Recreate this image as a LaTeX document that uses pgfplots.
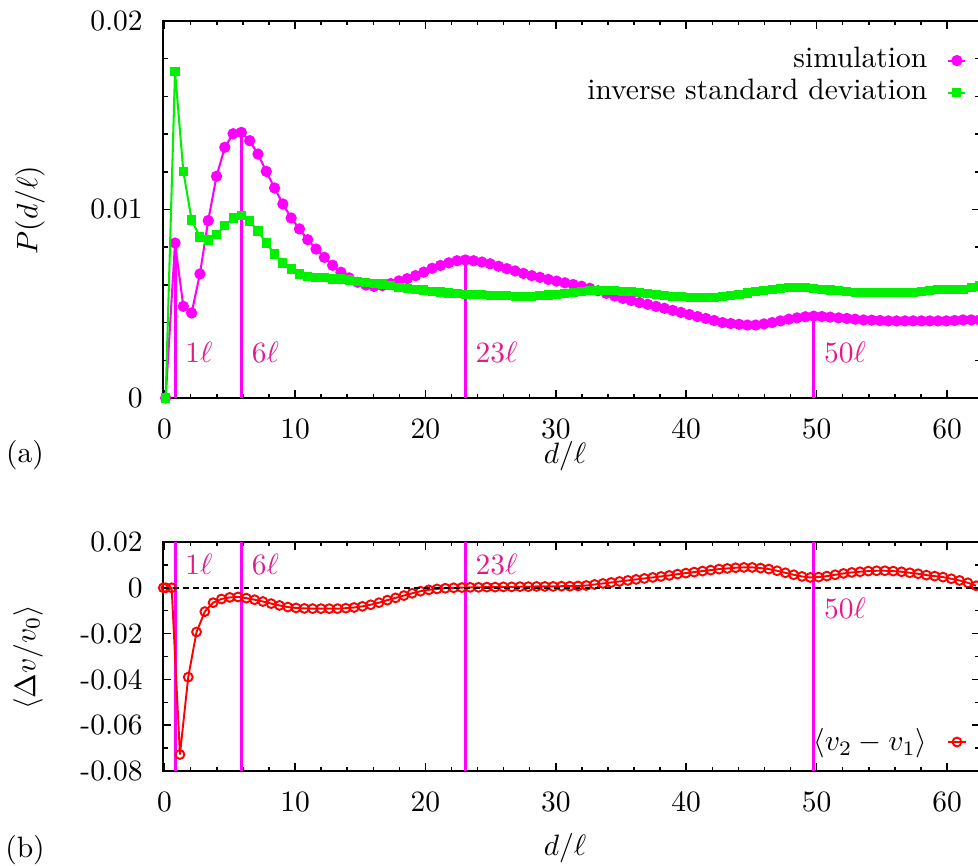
\documentclass[border=0pt]{standalone}
\usepackage{pgfplots}
\pgfplotsset{compat=1.18}
\usepackage{pgfplotstable}

\definecolor{mag}{RGB}{255,0,255}
\definecolor{grn}{RGB}{0,240,0}
\definecolor{labpink}{RGB}{230,25,140}

\pgfplotstableread{
x sim isd
0.080 0 0
0.800 0.00822 0.01733
1.436 0.00486 0.01202
2.072 0.00451 0.00944
2.708 0.00658 0.00854
3.344 0.00941 0.00838
3.980 0.01176 0.00866
4.616 0.01330 0.00914
5.252 0.01402 0.00955
5.888 0.01409 0.00967
6.524 0.01365 0.00939
7.160 0.01294 0.00886
7.796 0.01202 0.00822
8.432 0.01114 0.00764
9.068 0.01029 0.00716
9.704 0.00955 0.00684
10.340 0.00897 0.00658
10.976 0.00840 0.00645
11.612 0.00790 0.00637
12.248 0.00746 0.00637
12.884 0.00704 0.00631
13.520 0.00667 0.00631
14.156 0.00637 0.00626
14.792 0.00614 0.00619
15.428 0.00599 0.00614
16.064 0.00592 0.00608
16.700 0.00596 0.00605
17.336 0.00607 0.00598
17.972 0.00621 0.00587
18.608 0.00633 0.00582
19.244 0.00649 0.00576
19.880 0.00668 0.00573
20.516 0.00688 0.00567
21.152 0.00703 0.00562
21.788 0.00717 0.00557
22.424 0.00728 0.00553
23.060 0.00732 0.00551
23.696 0.00728 0.00550
24.332 0.00721 0.00548
24.968 0.00712 0.00544
25.604 0.00699 0.00544
26.240 0.00686 0.00542
26.876 0.00674 0.00539
27.512 0.00661 0.00539
28.148 0.00649 0.00539
28.784 0.00640 0.00544
29.420 0.00629 0.00546
30.056 0.00620 0.00550
30.692 0.00611 0.00555
31.328 0.00602 0.00560
31.964 0.00593 0.00566
32.600 0.00582 0.00571
33.236 0.00569 0.00569
33.872 0.00555 0.00569
34.508 0.00541 0.00569
35.144 0.00528 0.00566
35.780 0.00517 0.00564
36.416 0.00506 0.00559
37.052 0.00497 0.00553
37.688 0.00486 0.00548
38.324 0.00476 0.00542
38.960 0.00465 0.00539
39.596 0.00454 0.00537
40.232 0.00443 0.00533
40.868 0.00432 0.00533
41.504 0.00422 0.00533
42.140 0.00411 0.00533
42.776 0.00400 0.00539
43.412 0.00395 0.00544
44.048 0.00391 0.00550
44.684 0.00387 0.00557
45.320 0.00387 0.00564
45.956 0.00393 0.00571
46.592 0.00400 0.00577
47.228 0.00409 0.00582
47.864 0.00418 0.00586
48.500 0.00425 0.00587
49.136 0.00431 0.00586
49.772 0.00434 0.00580
50.408 0.00432 0.00577
51.044 0.00429 0.00573
51.680 0.00425 0.00569
52.316 0.00422 0.00564
52.952 0.00418 0.00560
53.588 0.00414 0.00559
54.224 0.00413 0.00559
54.860 0.00411 0.00559
55.496 0.00409 0.00559
56.132 0.00409 0.00559
56.768 0.00409 0.00559
57.404 0.00409 0.00560
58.040 0.00409 0.00566
58.676 0.00409 0.00571
59.312 0.00409 0.00575
59.948 0.00409 0.00575
60.584 0.00411 0.00577
61.220 0.00414 0.00577
61.856 0.00414 0.00585
62.492 0.00414 0.00594
}\toptab

\pgfplotstableread{
x dv
-0.100 0
0.100 0
0.540 0
1.176 -0.0728
1.812 -0.0390
2.448 -0.0193
3.084 -0.0104
3.720 -0.0065
4.356 -0.0049
4.992 -0.0042
5.628 -0.0040
6.264 -0.0045
6.900 -0.0052
7.536 -0.0060
8.172 -0.0069
8.808 -0.0077
9.444 -0.0084
10.080 -0.0088
10.716 -0.0090
11.352 -0.0091
11.988 -0.0091
12.624 -0.0091
13.260 -0.0091
13.896 -0.0089
14.532 -0.0086
15.168 -0.0081
15.804 -0.0074
16.440 -0.0065
17.076 -0.0054
17.712 -0.0044
18.348 -0.0034
18.984 -0.0024
19.620 -0.0015
20.256 -0.0009
20.892 -0.0005
21.528 -0.0002
22.164 0.0000
22.800 0.0001
23.436 0.0002
24.072 0.0002
24.708 0.0003
25.344 0.0003
25.980 0.0004
26.616 0.0004
27.252 0.0005
27.888 0.0005
28.524 0.0006
29.160 0.0006
29.796 0.0006
30.432 0.0007
31.068 0.0007
31.704 0.0008
32.340 0.0010
32.976 0.00146
33.612 0.00190
34.248 0.00233
34.884 0.00277
35.520 0.00321
36.156 0.00365
36.792 0.00408
37.428 0.00452
38.064 0.00496
38.700 0.00540
39.336 0.00598
39.972 0.00642
40.608 0.00686
41.244 0.00729
41.880 0.00773
42.516 0.00817
43.152 0.00846
43.788 0.00875
44.424 0.00890
45.060 0.00890
45.696 0.00861
46.332 0.00817
46.968 0.00744
47.604 0.00656
48.240 0.00569
48.876 0.00496
49.512 0.00452
50.148 0.00467
50.784 0.00511
51.420 0.00569
52.056 0.00627
52.692 0.00671
53.328 0.00700
53.964 0.00729
54.600 0.00744
55.236 0.00744
55.872 0.00729
56.508 0.00700
57.144 0.00656
57.780 0.00613
58.416 0.00554
59.052 0.00511
59.688 0.00467
60.324 0.00394
60.960 0.00321
61.596 0.00219
62.232 0.00088
}\bottab

\begin{document}
\begin{tikzpicture}
\pgfplotsset{
  common/.style={
    scale only axis, width=276.73pt,
    xmin=-0.1, xmax=62.5,
    xtick={0,10,20,30,40,50,60},
    xticklabels={0,10,20,30,40,50,60},
    minor x tick num=4,
    scaled x ticks=false, scaled y ticks=false,
    tick align=inside, tick pos=both,
    major tick length=2.7pt, minor tick length=1.46pt,
    axis line style={line width=0.6pt},
    every tick/.style={black, line width=0.5pt},
    xticklabel style={yshift=-3.45pt},
    yticklabel style={xshift=-3.45pt},
    clip mode=individual,
    legend plot pos=right,
    legend cell align=right,
    legend image code/.code={\draw[mark repeat=2,mark phase=2,##1] plot coordinates {(0pt,0pt) (2.9pt,0pt) (5.8pt,0pt)};},
  }
}
% ---------- top panel ----------
\begin{axis}[common,
  at={(0pt,126.45pt)}, height=127.8pt,
  ymin=0, ymax=0.02,
  ytick={0,0.01,0.02}, yticklabels={0,0.01,0.02},
  minor y tick num=4,
  legend style={at={(0.9846,0.939)}, anchor=north east, draw=none, fill=none,
    inner sep=0pt, column sep=5.8pt,
    nodes={inner sep=1pt, text height=6.9pt, text depth=1.95pt}},
]
\addplot[ycomb, mag, line width=1pt, no marks, forget plot] coordinates {(0.8,0.00822) (5.888,0.01409) (23.06,0.00732) (49.772,0.00434)};
\addplot[mag, line width=0.7pt, mark=*, mark size=1.55pt, mark options={solid, fill=mag, draw=mag}] table[x=x, y=sim] {\toptab};
\addlegendentry{simulation}
\addplot[grn, line width=0.7pt, mark=square*, mark size=1.2pt, mark options={solid, fill=grn, draw=grn}] table[x=x, y=isd] {\toptab};
\addlegendentry{inverse standard deviation}
\node[text=labpink, anchor=west] at (axis cs:0.8,0.00244) {$1\ell$};
\node[text=labpink, anchor=west] at (axis cs:5.888,0.00244) {$6\ell$};
\node[text=labpink, anchor=west] at (axis cs:23.06,0.00244) {$23\ell$};
\node[text=labpink, anchor=west] at (axis cs:49.772,0.00244) {$50\ell$};
\end{axis}
% ---------- bottom panel ----------
\begin{axis}[common,
  at={(0pt,0pt)}, height=77.63pt,
  ymin=-0.08, ymax=0.02,
  ytick={-0.08,-0.06,-0.04,-0.02,0,0.02},
  yticklabels={-0.08,-0.06,-0.04,-0.02,0,0.02},
  minor y tick num=1,
  legend style={at={(0.9846,0.1266)}, anchor=east, draw=none, fill=none,
    inner sep=0pt, column sep=5.8pt,
    nodes={inner sep=1pt}},
]
\addplot[mag, line width=1pt, no marks, forget plot] coordinates {(0.8,-0.08) (0.8,0.02)};
\addplot[mag, line width=1pt, no marks, forget plot] coordinates {(5.888,-0.08) (5.888,0.02)};
\addplot[mag, line width=1pt, no marks, forget plot] coordinates {(23.06,-0.08) (23.06,0.02)};
\addplot[mag, line width=1pt, no marks, forget plot] coordinates {(49.772,-0.08) (49.772,0.02)};
\addplot[red, line width=0.65pt, mark=o, mark size=1.5pt, mark options={solid, line width=0.65pt}] table[x=x, y=dv] {\bottab};
\addlegendentry{$\langle v_2-v_1\rangle$}
\addplot[black, line width=0.6pt, dash pattern=on 2pt off 1.4pt, no marks, forget plot] coordinates {(-0.1,0) (62.5,0)};
\node[text=labpink, anchor=west] at (axis cs:0.8,0.0101) {$1\ell$};
\node[text=labpink, anchor=west] at (axis cs:5.888,0.0101) {$6\ell$};
\node[text=labpink, anchor=west] at (axis cs:23.06,0.0101) {$23\ell$};
\node[text=labpink, anchor=west] at (axis cs:49.772,-0.0088) {$50\ell$};
\end{axis}
% ---------- outer labels ----------
\node[inner sep=0pt] at (136.2pt,106.6pt) {$d/\ell$};
\node[inner sep=0pt] at (136.2pt,-26.1pt) {$d/\ell$};
\node[inner sep=0pt] at (-46.9pt,107.1pt) {(a)};
\node[inner sep=0pt] at (-46.9pt,-26.8pt) {(b)};
\node[rotate=90, inner sep=0pt] at (-45.2pt,190.2pt) {$P(d/\ell)$};
\node[rotate=90, inner sep=0pt] at (-45.9pt,38.6pt) {$\langle \Delta v/v_0\rangle$};
\pgfresetboundingbox
\path[use as bounding box] (-55.36pt,-31.87pt) rectangle (276.18pt,261.37pt);
\end{tikzpicture}
\end{document}
